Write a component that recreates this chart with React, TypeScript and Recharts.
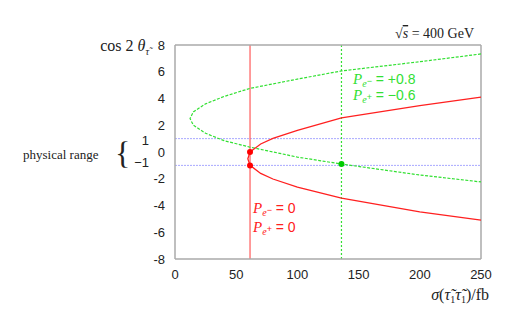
import {
  ComposedChart,
  ReferenceLine,
  Scatter,
  XAxis,
  YAxis,
} from 'recharts'

// sigma(stau1 stau1) in fb and cos 2 theta
const redSigma = [250, 200, 136, 100, 80, 70, 61.3, 59.5, 61.3, 70, 80, 100, 136, 200, 250]
const redCos = [4.1, 3.47, 2.55, 1.62, 1.02, 0.6, 0, -0.5, -1, -1.6, -2.02, -2.63, -3.45, -4.47, -5.1]

const greenSigma = [250, 200, 136, 100, 61, 40, 25, 15, 12.3, 15, 25, 40, 61, 100, 136, 200, 250]
const greenCos = [7.33, 6.75, 6.06, 5.45, 4.75, 4.15, 3.6, 3.0, 2.5, 2.0, 1.4, 0.85, 0.37, -0.38, -0.9, -1.72, -2.24]

const redDotSigma = [61.3, 61.3]
const redDotCos = [0, -1]
const greenDotSigma = [136]
const greenDotCos = [-0.9]

const redCut = 61.3
const greenCut = 136
const physicalRange = [1, -1]

const xTicks = [0, 50, 100, 150, 200, 250]
const yTicks = [-8, -6, -4, -2, 0, 2, 4, 6, 8]

const toPoints = (xs: number[], ys: number[]) => xs.map((x, i) => ({ x, y: ys[i] }))

const redCurve = toPoints(redSigma, redCos)
const greenCurve = toPoints(greenSigma, greenCos)
const redDots = toPoints(redDotSigma, redDotCos)
const greenDots = toPoints(greenDotSigma, greenDotCos)

const frame = '#aaaaaa'
const red = '#ff2020'
const green = '#33e033'
const serif = '"Liberation Serif", "DejaVu Serif", serif'
const sans = '"Liberation Sans", Arial, sans-serif'

const noShape = () => <g />
const dot = (color: string) => (p: any) => <circle cx={p.cx} cy={p.cy} r={3} fill={color} />

export default function App() {
  return (
    <div style={{ position: 'absolute', left: 0, top: 0, width: 523, height: 323, background: '#fff' }}>
      <ComposedChart width={523} height={323} margin={{ top: 45, right: 42, left: 0, bottom: 0 }}>
        <XAxis
          dataKey="x"
          type="number"
          domain={[0, 250]}
          ticks={xTicks}
          height={64}
          tickLine={false}
          tickSize={0}
          tickMargin={11}
          stroke={frame}
          strokeWidth={1.5}
          tick={{ fill: '#222', fontSize: 13, fontFamily: sans }}
        />
        <XAxis xAxisId="bm" type="number" domain={[0, 250]} ticks={xTicks} mirror tick={false} tickSize={4} axisLine={false} stroke={frame} />
        <XAxis xAxisId="top" orientation="top" type="number" domain={[0, 250]} ticks={xTicks} mirror tick={false} tickSize={4} stroke={frame} strokeWidth={1.5} />
        <YAxis
          dataKey="y"
          type="number"
          domain={[-8, 8]}
          ticks={yTicks}
          width={175}
          tickLine={false}
          tickSize={0}
          tickMargin={10}
          stroke={frame}
          strokeWidth={1.5}
          tick={{ fill: '#222', fontSize: 13, fontFamily: sans }}
        />
        <YAxis yAxisId="lm" type="number" domain={[-8, 8]} ticks={yTicks} mirror tick={false} tickSize={4} axisLine={false} stroke={frame} />
        <YAxis yAxisId="right" orientation="right" type="number" domain={[-8, 8]} ticks={yTicks} mirror tick={false} tickSize={4} stroke={frame} strokeWidth={1.5} />

        {physicalRange.map((v) => (
          <ReferenceLine key={v} y={v} stroke="#a8a8ff" strokeDasharray="2 1" />
        ))}
        <ReferenceLine x={redCut} stroke="#ff5a5a" strokeWidth={1.2} />
        <ReferenceLine x={greenCut} stroke={green} strokeDasharray="2 2" strokeWidth={1.2} />

        <Scatter data={greenCurve} line={{ stroke: green, strokeWidth: 1.2, strokeDasharray: '3 1.5' }} lineType="joint" shape={noShape} isAnimationActive={false} />
        <Scatter data={redCurve} line={{ stroke: red, strokeWidth: 1.3 }} lineType="joint" shape={noShape} isAnimationActive={false} />
        <Scatter data={redDots} shape={dot('#ff0000')} isAnimationActive={false} />
        <Scatter data={greenDots} shape={dot('#00cc00')} isAnimationActive={false} />

        <text x={149} y={51} textAnchor="end" fontFamily={serif} fontSize={16} fill="#222">
          cos 2 <tspan fontStyle="italic">θ</tspan>
          <tspan fontSize={10} dy={4} fontStyle="italic">τ̃</tspan>
        </text>
        <text x={474} y={38} textAnchor="end" fontFamily={serif} fontSize={14} fill="#222">
          √<tspan fontStyle="italic" textDecoration="overline">s</tspan> = 400 GeV
        </text>
        <text x={489} y={300} textAnchor="end" fontFamily={serif} fontSize={16} fill="#222">
          <tspan fontStyle="italic">σ</tspan>(<tspan fontStyle="italic">τ̃</tspan>
          <tspan fontSize={10} dy={3}>1</tspan>
          <tspan fontStyle="italic" dy={-3}>τ̃</tspan>
          <tspan fontSize={10} dy={3}>1</tspan>
          <tspan dy={-3}>)/fb</tspan>
        </text>

        <text x={23} y={159} fontFamily={serif} fontSize={13} fill="#222">physical range</text>
        <text x={115} y={164} fontFamily={serif} fontSize={32} fill="#222" fontWeight={300}>{'{'}</text>
        <text x={149} y={145} textAnchor="end" fontFamily={sans} fontSize={13} fill="#222">1</text>
        <text x={149} y={167} textAnchor="end" fontFamily={sans} fontSize={13} fill="#222">−1</text>

        <text x={353} y={84} fill={green} fontSize={14} fontFamily={sans}>
          <tspan fontFamily={serif} fontStyle="italic" fontSize={15}>P</tspan>
          <tspan fontFamily={serif} fontStyle="italic" fontSize={10} dy={3}>e</tspan>
          <tspan fontSize={9} dy={-3}>−</tspan>
          <tspan dy={0}> = +0.8</tspan>
        </text>
        <text x={353} y={100} fill={green} fontSize={14} fontFamily={sans}>
          <tspan fontFamily={serif} fontStyle="italic" fontSize={15}>P</tspan>
          <tspan fontFamily={serif} fontStyle="italic" fontSize={10} dy={3}>e</tspan>
          <tspan fontSize={9} dy={-3}>+</tspan>
          <tspan> = −0.6</tspan>
        </text>
        <text x={253} y={213} fill={red} fontSize={14} fontFamily={sans}>
          <tspan fontFamily={serif} fontStyle="italic" fontSize={15}>P</tspan>
          <tspan fontFamily={serif} fontStyle="italic" fontSize={10} dy={3}>e</tspan>
          <tspan fontSize={9} dy={-3}>−</tspan>
          <tspan> = 0</tspan>
        </text>
        <text x={253} y={232} fill={red} fontSize={14} fontFamily={sans}>
          <tspan fontFamily={serif} fontStyle="italic" fontSize={15}>P</tspan>
          <tspan fontFamily={serif} fontStyle="italic" fontSize={10} dy={3}>e</tspan>
          <tspan fontSize={9} dy={-3}>+</tspan>
          <tspan> = 0</tspan>
        </text>
      </ComposedChart>
    </div>
  )
}
